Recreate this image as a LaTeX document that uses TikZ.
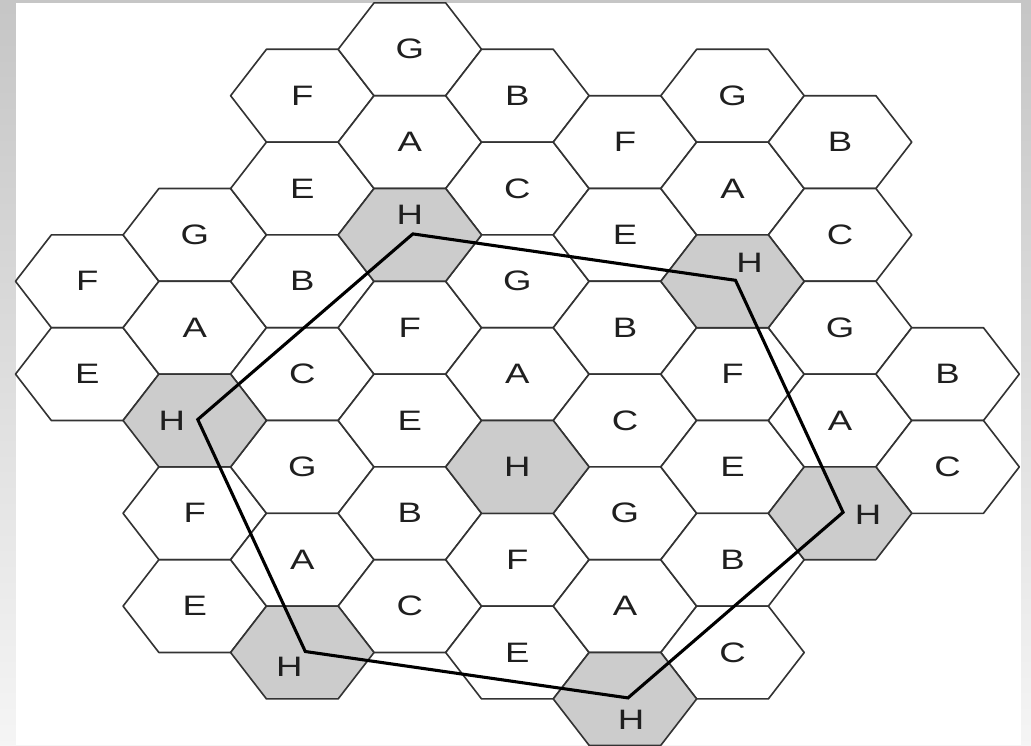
\documentclass[tikz,border=0pt]{standalone}
\usepackage{fontspec}
\newfontfamily\hexfont[FakeStretch=1.3]{Liberation Sans}
\usetikzlibrary{calc}

\begin{document}
\begin{tikzpicture}[
    x=0.025cm, y=-0.025cm,
    hexcell/.style={draw=black!80, line width=1.15pt, line join=round},
    lbl/.style={font=\hexfont\fontsize{20}{24}\selectfont, text=black!88, inner sep=0pt},
    route/.style={draw=black, line width=2.2pt},
]
\useasboundingbox (0,0) rectangle (1031,745);
% === Slide background ===
\shade[top color=gray!45, bottom color=gray!8] (0,0) rectangle (1031,745);
\fill[white] (16,2.5) rectangle (1021,745);
% === Plain cells: column/row/label ===
\foreach \k/\j/\v in {0/2/F, 0/3/E,
    1/2/G, 1/3/A, 1/5/F, 1/6/E,
    2/0/F, 2/1/E, 2/2/B, 2/3/C, 2/4/G, 2/5/A,
    3/0/G, 3/1/A, 3/3/F, 3/4/E, 3/5/B, 3/6/C,
    4/0/B, 4/1/C, 4/2/G, 4/3/A, 4/5/F, 4/6/E,
    5/1/F, 5/2/E, 5/3/B, 5/4/C, 5/5/G, 5/6/A,
    6/0/G, 6/1/A, 6/3/F, 6/4/E, 6/5/B, 6/6/C,
    7/1/B, 7/2/C, 7/3/G, 7/4/A,
    8/3/B, 8/4/C} {
    \pgfmathsetmacro\cx{87.2+107.55*\k}
    \pgfmathsetmacro\cy{49.3+46.4*(2*\j+1-mod(\k,2))}
    \draw[hexcell, fill=white] (\cx-71.7,\cy) -- ++(35.85,-46.4) -- ++(71.7,0)
        -- ++(35.85,46.4) -- ++(-35.85,46.4) -- ++(-71.7,0) -- cycle;
    \node[lbl] (c\k\j) at (\cx,\cy) {\v};
}
% === Shaded H cells: column/row/label shift ===
\foreach \k/\j/\dx/\dy in {1/4/-23/0, 2/6/-13/14, 3/2/0/-20, 4/4/0/0,
    5/7/6/21, 6/2/17/-18, 7/5/28/2} {
    \pgfmathsetmacro\cx{87.2+107.55*\k}
    \pgfmathsetmacro\cy{49.3+46.4*(2*\j+1-mod(\k,2))}
    \draw[hexcell, fill=gray!40] (\cx-71.7,\cy) -- ++(35.85,-46.4) -- ++(71.7,0)
        -- ++(35.85,46.4) -- ++(-35.85,46.4) -- ++(-71.7,0) -- cycle;
    \coordinate (h\k\j) at (\cx+3,\cy-1);
    \node[lbl] (n\k\j) at (\cx+\dx,\cy+\dy) {H};
}
% === Reuse cluster outline ===
\draw[route] (h32) -- (h62) -- (h75) -- (h57) -- (h26) -- (h14) -- cycle;
\end{tikzpicture}
\end{document}
